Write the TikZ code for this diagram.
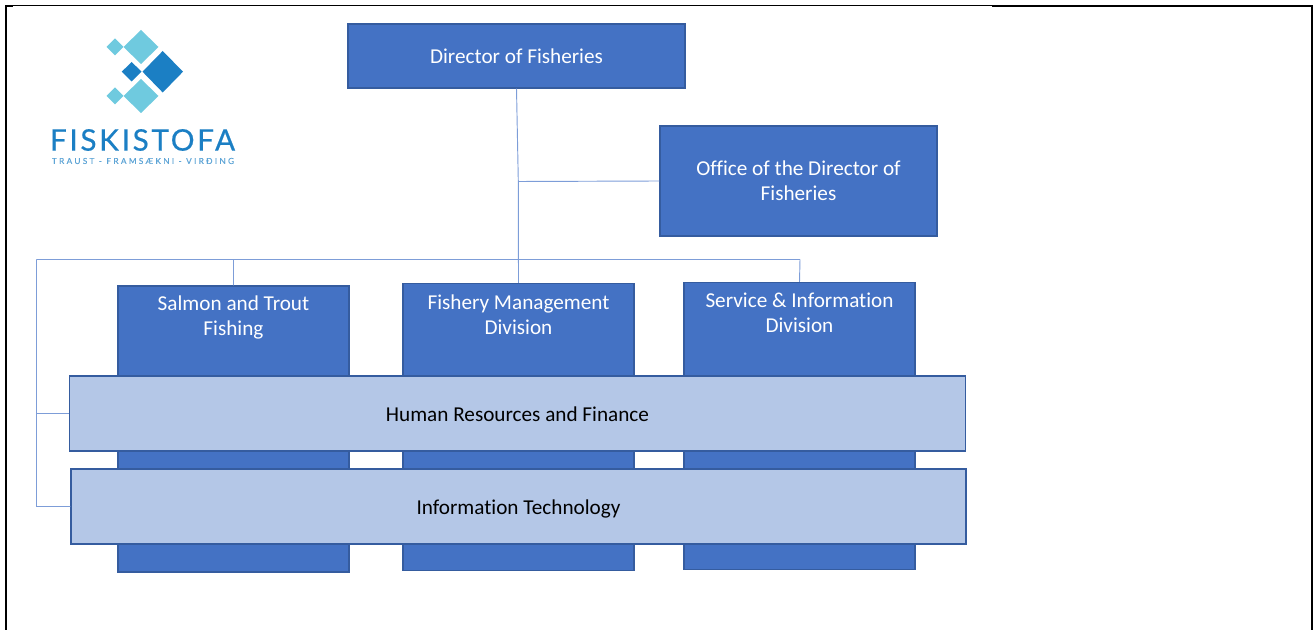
\documentclass[tikz,border=0pt]{standalone}
\usepackage{fontspec}
\setmainfont[Ligatures=NoCommon]{Carlito}
\newfontfamily\logofont[LetterSpace=9,FakeBold=0.5]{Lato}
\newfontfamily\tagfont[LetterSpace=28,FakeBold=0.4]{Lato}
\definecolor{boxblue}{HTML}{4472C4}
\definecolor{boxedge}{HTML}{355C9F}
\definecolor{barblue}{HTML}{B4C7E7}
\definecolor{linkblue}{HTML}{7D9DD8}
\definecolor{logolight}{HTML}{6FCADF}
\definecolor{logodark}{HTML}{1B7FC4}
\tikzset{
  orgtext/.style={inner sep=0pt, align=center, font=\fontsize{15.9}{19}\selectfont},
  oneline/.style={text height=13.5pt, text depth=2pt},
  orgbox/.style={orgtext, draw=boxedge, fill=boxblue, text=white, line width=0.8pt},
  orgbar/.style={orgtext, oneline, draw=boxedge, fill=barblue, text=black, line width=0.8pt},
  link/.style={draw=linkblue, line width=0.7pt},
  framing/.style={draw=black, line width=1.5pt},
}
\begin{document}
\begin{tikzpicture}[x=0.75pt, y=-0.75pt]
  \useasboundingbox (0,0) rectangle (1314,630);

  % frame
  \coordinate (f0) at (6,630);
  \coordinate (f1) at (6,6);
  \coordinate (ftab) at (13,6);
  \coordinate (f2) at (992,5.5);
  \coordinate (f3) at (1312.3,6);
  \coordinate (f4) at (1312.3,630);
  \draw[framing] (f0) -- (f1) -- (ftab);
  \draw[draw=black, line width=0.8pt] (ftab |- f2) -- (f2);
  \draw[framing] (f2 |- f3) -- (f3) -- (f4);

  % logo
  \fill[logolight] (141,30) -- (158.5,47) -- (141,64) -- (123.5,47) -- cycle;
  \fill[logolight] (115,38.5) -- (123.5,47) -- (115,55.5) -- (106.5,47) -- cycle;
  \fill[logolight] (141,79) -- (158.5,96) -- (141,113) -- (123.5,96) -- cycle;
  \fill[logolight] (115,87.5) -- (123.5,96) -- (115,104.5) -- (106.5,96) -- cycle;
  \fill[logodark] (131.7,62) -- (141.5,71.7) -- (131.7,81.5) -- (121.7,71.7) -- cycle;
  \fill[logodark] (162.7,51) -- (183,71.7) -- (162.7,92.5) -- (142.5,71.7) -- cycle;
  \node[text=logodark, inner sep=0pt] (logoname) at (142.5,140) {\logofont\fontsize{22.3}{24}\selectfont FISKISTOFA};
  \node[text=logodark!70, inner sep=0pt] (logotag) at (143,161) {\tagfont\fontsize{6.2}{8}\selectfont TRAUST - FRAMSÆKNI - VIRÐING};

  % links go below the boxes
  \coordinate (railleft) at (36.5,259.5);
  \coordinate (railsalmon) at (233.5,259.5);
  \coordinate (railservice) at (800,259.5);
  \coordinate (tapoffice) at (518.3,181.5);

  \node[orgbox, oneline, minimum width=337pt*0.75, minimum height=64pt*0.75] (director) at (516.5,56) {Director of Fisheries};
  \node[orgbox, minimum width=277pt*0.75, minimum height=110pt*0.75] (office) at (798.5,181) {Office of the Director of\\Fisheries};
  \node[orgbox, minimum width=231pt*0.75, minimum height=286pt*0.75] (salmon) at (233.5,429) {};
  \node[orgbox, minimum width=231pt*0.75, minimum height=287pt*0.75] (fishery) at (518.5,427) {};
  \node[orgbox, minimum width=231pt*0.75, minimum height=287pt*0.75] (service) at (799.5,426) {};
  \node[orgtext, text=white] (salmontext) at (233.5,317.5) {Salmon and Trout\\Fishing};
  \node[orgtext, text=white] (fisherytext) at (518.5,315) {Fishery Management\\Division};
  \node[orgtext, text=white] (servicetext) at (799.5,312.5) {Service \& Information\\Division};
  \node[orgbar, minimum width=896pt*0.75, minimum height=75pt*0.75] (hr) at (517.5,413.5) {Human Resources and Finance};
  \node[orgbar, minimum width=895pt*0.75, minimum height=75pt*0.75] (it) at (518.5,506.5) {Information Technology};

  \path[link]
    (director.south) -- (tapoffice)
    (tapoffice) -- (office.west)
    (tapoffice) -- (fishery.north)
    (railleft) -- (railservice)
    (railservice) -- (service.north)
    (railsalmon) -- (salmon.north)
    (railleft) |- (hr.west)
    (railleft) |- (it.west);
\end{tikzpicture}
\end{document}
